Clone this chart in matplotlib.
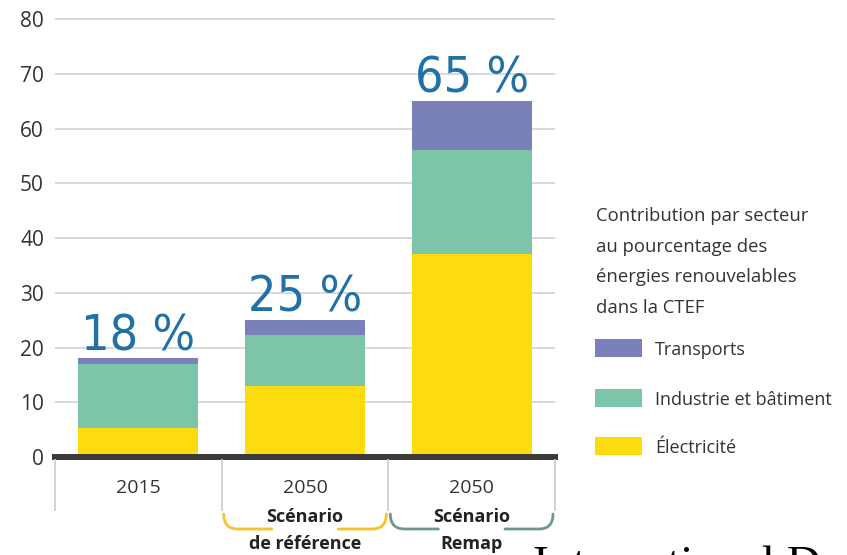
import matplotlib
matplotlib.use("Agg")
import matplotlib.pyplot as plt
from matplotlib.path import Path
from matplotlib.patches import PathPatch, Rectangle
from matplotlib.lines import Line2D
from matplotlib.transforms import blended_transform_factory

plt.rcParams["font.family"] = ["Open Sans", "DejaVu Sans"]

# ---- data -------------------------------------------------------------
categories = ["2015", "2050", "2050"]
scenario_line1 = ["", "Scénario", "Scénario"]
scenario_line2 = ["", "de référence", "Remap"]
electricite = [5.3, 13.0, 37.0]
industrie = [11.7, 9.2, 19.0]
transports = [1.0, 2.8, 9.0]
series_names = ["Transports", "Industrie et bâtiment", "Électricité"]
legend_title = ["Contribution par secteur", "au pourcentage des",
                "énergies renouvelables", "dans la CTEF"]
yticks = [0, 10, 20, 30, 40, 50, 60, 70, 80]

# ---- style ------------------------------------------------------------
COL_ELEC = "#fcdb0f"
COL_IND = "#7cc5a8"
COL_TRA = "#7a80b9"
COL_PCT = "#2271a5"
COL_TXT = "#333333"
BRACKET_COLORS = [None, "#f5c42a", "#6f9a82"]

W, H = 847, 555
fig = plt.figure(figsize=(W / 100, H / 100), dpi=100)
fig.patch.set_facecolor("white")


def fx(px):
    return px / W


def fy(py):
    return 1 - py / H


# plot area: value 0 sits at y=457 px, one unit = 5.475 px
px_per_unit = 5.475
ymax = 81
ax = fig.add_axes([fx(55), fy(457), 500 / W, ymax * px_per_unit / H])
ax.set_xlim(-0.5, 2.5)
ax.set_ylim(0, ymax)

x = list(range(len(categories)))
width = 0.72
bottom2 = [a + b for a, b in zip(electricite, industrie)]
totals = [a + b for a, b in zip(bottom2, transports)]

ax.bar(x, electricite, width=width, color=COL_ELEC, zorder=3)
ax.bar(x, industrie, width=width, bottom=electricite, color=COL_IND, zorder=3)
ax.bar(x, transports, width=width, bottom=bottom2, color=COL_TRA, zorder=3)

ax.set_yticks(yticks)
ax.yaxis.grid(True, color="#d8d8d8", linewidth=1.4)
ax.set_axisbelow(True)
for s in ax.spines.values():
    s.set_visible(False)
ax.set_xticks([])
ax.tick_params(axis="y", length=0, pad=8, labelsize=15, labelcolor=COL_TXT)
ax.axhline(0, color="#3a3a3a", linewidth=4.3, zorder=4, clip_on=False)

# share of renewables above each bar
for xi, t in zip(x, totals):
    ax.annotate(f"{round(t)} %", xy=(xi, t), xytext=(0, 6),
                textcoords="offset points", ha="center", va="baseline",
                fontsize=36, color=COL_PCT,
                family=["Liberation Sans Narrow", "DejaVu Sans"],
                fontstretch="condensed")

# category labels below the axis
trans = blended_transform_factory(ax.transData, fig.transFigure)
for xi, cat, l1, l2 in zip(x, categories, scenario_line1, scenario_line2):
    ax.text(xi, fy(488), cat, transform=trans, ha="center", va="center",
            fontsize=14, color=COL_TXT)
    if l1:
        ax.text(xi, fy(517), l1, transform=trans, ha="center", va="center",
                fontsize=13, fontweight="bold", color="#222222")
        ax.text(xi, fy(544), l2, transform=trans, ha="center", va="center",
                fontsize=13, fontweight="bold", color="#222222")

# separators between categories
for xb in [-0.5, 0.5, 1.5, 2.5]:
    fig.add_artist(Line2D([xb, xb], [fy(460), fy(510)], transform=trans,
                          color="#cfcfcf", linewidth=1.3))

# brackets under the scenario names
r = 0.085
gap = 0.012
y_top, y_bot = fy(514), fy(529)
for xi, col in zip(x, BRACKET_COLORS):
    if col is None:
        continue
    xl, xr = xi - 0.5 + gap, xi + 0.5 - gap
    left = Path([(xl, y_top), (xl, y_bot), (xl + r, y_bot), (xi - 0.2, y_bot)],
                [Path.MOVETO, Path.CURVE3, Path.CURVE3, Path.LINETO])
    right = Path([(xi + 0.2, y_bot), (xr - r, y_bot), (xr, y_bot), (xr, y_top)],
                 [Path.MOVETO, Path.LINETO, Path.CURVE3, Path.CURVE3])
    for p in (left, right):
        fig.add_artist(PathPatch(p, transform=trans, facecolor="none",
                                 edgecolor=col, linewidth=2.0,
                                 capstyle="round"))

# legend block
title_baselines = [221, 252, 282, 313]
for line, yb in zip(legend_title, title_baselines):
    fig.text(fx(596), fy(yb), line, ha="left", va="baseline",
             fontsize=13.3, color=COL_TXT)

legend_colors = [COL_TRA, COL_IND, COL_ELEC]
rect_tops = [339, 389, 437]
label_baselines = [355, 405, 453]
for name, col, top, yb in zip(series_names, legend_colors, rect_tops,
                              label_baselines):
    fig.add_artist(Rectangle((fx(595), fy(top + 18)), 47 / W, 18 / H,
                             transform=fig.transFigure, facecolor=col,
                             edgecolor="none"))
    fig.text(fx(655), fy(yb), name, ha="left", va="baseline",
             fontsize=13, color=COL_TXT)

# running text of the page continuing below
fig.text(fx(533), fy(545), "International D", ha="left", va="top",
         fontsize=34, family="Liberation Serif", color="black")

fig.savefig("out.png", dpi=100)
